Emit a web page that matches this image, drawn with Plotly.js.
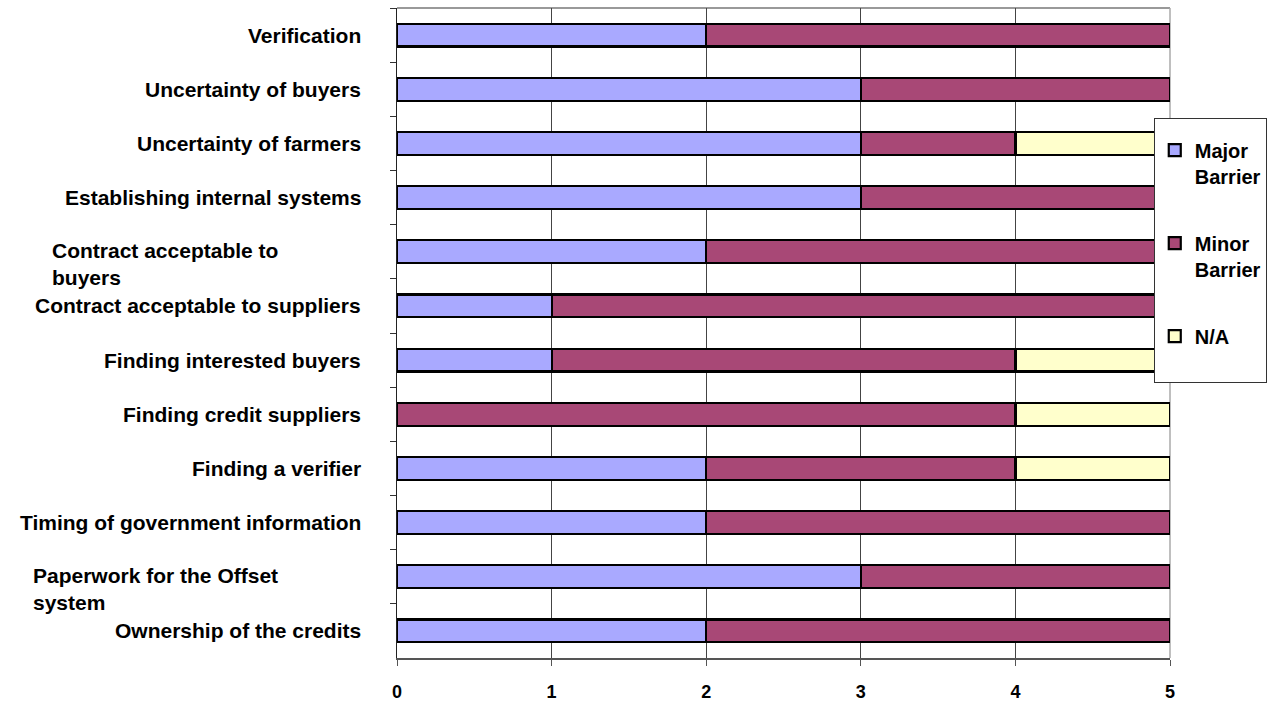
<!DOCTYPE html>
<html>
<head>
<meta charset="utf-8">
<script src="https://cdn.plot.ly/plotly-3.0.1.min.js"></script>
<style>
  html, body { margin: 0; padding: 0; background: #fff; }
  #chart { width: 1269px; height: 705px; }
</style>
</head>
<body>
<div id="chart"></div>
<script>
// Barriers to participation, listed top to bottom
const categories = [
  "Verification",
  "Uncertainty of buyers",
  "Uncertainty of farmers",
  "Establishing internal systems",
  "Contract acceptable to<br>buyers",
  "Contract acceptable to suppliers",
  "Finding interested buyers",
  "Finding credit suppliers",
  "Finding a verifier",
  "Timing of government information",
  "Paperwork for the Offset<br>system",
  "Ownership of the credits"
];

// Number of responses per rating
const majorBarrier = [2, 3, 3, 3, 2, 1, 1, 0, 2, 2, 3, 2];
const minorBarrier = [3, 2, 1, 2, 3, 4, 3, 4, 2, 3, 2, 3];
const notApplicable = [0, 0, 1, 0, 0, 0, 1, 1, 1, 0, 0, 0];

const xTicks = [0, 1, 2, 3, 4, 5];

const seriesNames = ["Major<br>Barrier", "Minor<br>Barrier", "N/A<br><span style='font-size:34px'> </span>"];
const seriesValues = [majorBarrier, minorBarrier, notApplicable];
const seriesColors = ["#A9A9FF", "#A84876", "#FFFFCC"];

const FONT = "Liberation Sans, Arial, sans-serif";

const traces = seriesValues.map((vals, i) => ({
  type: "bar",
  orientation: "h",
  name: seriesNames[i],
  legendgroup: "g" + i,
  x: vals,
  y: categories,
  width: 0.42,
  marker: { color: seriesColors[i], line: { color: "#000", width: 2.2 } },
  hoverinfo: "x+name"
}));

// Category labels drawn as annotations so wrapped labels keep left-aligned lines
const labelAnnotations = categories.map(c => {
  const wrapped = c.indexOf("<br>") >= 0;
  return {
    xref: "paper", yref: "y",
    x: 0, y: c,
    xanchor: "right", yanchor: "middle",
    xshift: wrapped ? -117 : -34,
    yshift: wrapped ? -12 : 0,
    align: "left",
    showarrow: false,
    text: c,
    font: { family: FONT, size: 21, color: "#000", weight: 700 }
  };
});

const layout = {
  width: 1269,
  height: 705,
  margin: { l: 397, r: 99, t: 8, b: 47, pad: 0, autoexpand: false },
  paper_bgcolor: "#fff",
  plot_bgcolor: "#fff",
  barmode: "stack",
  showlegend: true,
  legend: {
    x: 0.979, y: 0.831,
    xanchor: "left", yanchor: "top",
    bgcolor: "#fff",
    bordercolor: "#333",
    borderwidth: 1,
    traceorder: "grouped",
    tracegroupgap: 38,
    valign: "top",
    itemwidth: 30,
    title: { text: " ", font: { family: FONT, size: 9 } },
    font: { family: FONT, size: 20, color: "#000", weight: 700 }
  },
  xaxis: {
    range: [0, 5],
    tickvals: xTicks,
    ticktext: xTicks.map(String),
    showgrid: true,
    gridcolor: "#444",
    gridwidth: 1,
    zeroline: false,
    showline: true,
    linecolor: "#555",
    linewidth: 1.5,
    ticks: "outside",
    ticklen: 6,
    tickcolor: "#555",
    ticklabelstandoff: 11,
    tickfont: { family: FONT, size: 18, color: "#000", weight: 700 },
    fixedrange: true
  },
  yaxis: {
    type: "category",
    categoryorder: "array",
    categoryarray: categories,
    range: [11.5, -0.5],
    showgrid: false,
    zeroline: false,
    showline: true,
    linecolor: "#222",
    linewidth: 1.5,
    ticks: "outside",
    tickson: "boundaries",
    ticklen: 6,
    tickcolor: "#333",
    showticklabels: false,
    fixedrange: true
  },
  shapes: [
    { type: "line", xref: "paper", yref: "paper", x0: 0, x1: 1, y0: 1, y1: 1,
      line: { color: "#999", width: 2 }, layer: "below" },
    { type: "line", xref: "paper", yref: "paper", x0: 1, x1: 1, y0: 0, y1: 1,
      line: { color: "#aaa", width: 1.5 }, layer: "below" }
  ],
  annotations: labelAnnotations
};

Plotly.newPlot("chart", traces, layout, { displayModeBar: false, staticPlot: true });
</script>
</body>
</html>
